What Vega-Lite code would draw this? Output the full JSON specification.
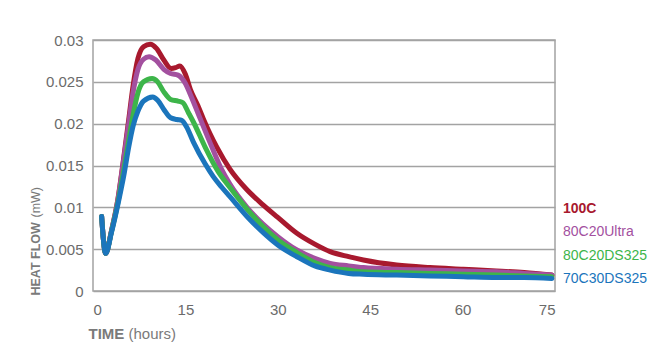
{
  "$schema": "https://vega.github.io/schema/vega-lite/v6.json",
  "width": 462,
  "height": 251,
  "autosize": "none",
  "padding": {"left": 93, "top": 40, "right": 98, "bottom": 65},
  "background": "white",
  "config": {
    "font": "Liberation Sans",
    "view": {"stroke": "#a3a3a3", "strokeWidth": 1.5}
  },
  "data": {
    "values": [
      {"s": "100C", "t": 1.4, "v": 0.0089}, {"s": "100C", "t": 2.05, "v": 0.0045}, {"s": "100C", "t": 3.0, "v": 0.0072}, {"s": "100C", "t": 4.0, "v": 0.0108}, {"s": "100C", "t": 5.0, "v": 0.0160}, {"s": "100C", "t": 5.8, "v": 0.0205}, {"s": "100C", "t": 6.5, "v": 0.0245}, {"s": "100C", "t": 7.3, "v": 0.0278}, {"s": "100C", "t": 8.2, "v": 0.0292}, {"s": "100C", "t": 9.3, "v": 0.0295}, {"s": "100C", "t": 10.3, "v": 0.0290}, {"s": "100C", "t": 11.5, "v": 0.0276}, {"s": "100C", "t": 12.7, "v": 0.0266}, {"s": "100C", "t": 13.4, "v": 0.0267}, {"s": "100C", "t": 14.1, "v": 0.0269}, {"s": "100C", "t": 15.0, "v": 0.0259}, {"s": "100C", "t": 15.8, "v": 0.0241}, {"s": "100C", "t": 17.0, "v": 0.0222}, {"s": "100C", "t": 17.9, "v": 0.0206}, {"s": "100C", "t": 19.0, "v": 0.0188}, {"s": "100C", "t": 20.1, "v": 0.0172}, {"s": "100C", "t": 22.2, "v": 0.0146}, {"s": "100C", "t": 25.0, "v": 0.0121}, {"s": "100C", "t": 27.6, "v": 0.0103}, {"s": "100C", "t": 30.0, "v": 0.0088}, {"s": "100C", "t": 33.1, "v": 0.0069}, {"s": "100C", "t": 36.0, "v": 0.0056}, {"s": "100C", "t": 38.5, "v": 0.0047}, {"s": "100C", "t": 41.5, "v": 0.0041}, {"s": "100C", "t": 43.9, "v": 0.0037}, {"s": "100C", "t": 49.3, "v": 0.0031}, {"s": "100C", "t": 54.7, "v": 0.0028}, {"s": "100C", "t": 60.1, "v": 0.0026}, {"s": "100C", "t": 65.5, "v": 0.0024}, {"s": "100C", "t": 70.0, "v": 0.0022}, {"s": "100C", "t": 74.5, "v": 0.0019},

      {"s": "80C20Ultra", "t": 1.4, "v": 0.0089}, {"s": "80C20Ultra", "t": 2.05, "v": 0.0045}, {"s": "80C20Ultra", "t": 3.0, "v": 0.0072}, {"s": "80C20Ultra", "t": 4.0, "v": 0.0107}, {"s": "80C20Ultra", "t": 5.0, "v": 0.0158}, {"s": "80C20Ultra", "t": 5.8, "v": 0.0200}, {"s": "80C20Ultra", "t": 6.5, "v": 0.0237}, {"s": "80C20Ultra", "t": 7.3, "v": 0.0265}, {"s": "80C20Ultra", "t": 8.2, "v": 0.0277}, {"s": "80C20Ultra", "t": 9.1, "v": 0.0280}, {"s": "80C20Ultra", "t": 10.2, "v": 0.0276}, {"s": "80C20Ultra", "t": 11.5, "v": 0.0265}, {"s": "80C20Ultra", "t": 12.6, "v": 0.0260}, {"s": "80C20Ultra", "t": 13.8, "v": 0.0258}, {"s": "80C20Ultra", "t": 15.0, "v": 0.0248}, {"s": "80C20Ultra", "t": 15.8, "v": 0.0235}, {"s": "80C20Ultra", "t": 17.4, "v": 0.0206}, {"s": "80C20Ultra", "t": 19.3, "v": 0.0172}, {"s": "80C20Ultra", "t": 20.9, "v": 0.0145}, {"s": "80C20Ultra", "t": 22.2, "v": 0.0128}, {"s": "80C20Ultra", "t": 25.0, "v": 0.0100}, {"s": "80C20Ultra", "t": 27.6, "v": 0.0080}, {"s": "80C20Ultra", "t": 30.0, "v": 0.0065}, {"s": "80C20Ultra", "t": 33.1, "v": 0.0049}, {"s": "80C20Ultra", "t": 36.0, "v": 0.0039}, {"s": "80C20Ultra", "t": 38.5, "v": 0.0033}, {"s": "80C20Ultra", "t": 41.5, "v": 0.0030}, {"s": "80C20Ultra", "t": 43.9, "v": 0.0028}, {"s": "80C20Ultra", "t": 49.3, "v": 0.0026}, {"s": "80C20Ultra", "t": 54.7, "v": 0.0025}, {"s": "80C20Ultra", "t": 60.1, "v": 0.0024}, {"s": "80C20Ultra", "t": 65.5, "v": 0.0023}, {"s": "80C20Ultra", "t": 70.0, "v": 0.0021}, {"s": "80C20Ultra", "t": 74.5, "v": 0.0019},

      {"s": "80C20DS325", "t": 1.4, "v": 0.0089}, {"s": "80C20DS325", "t": 2.05, "v": 0.0045}, {"s": "80C20DS325", "t": 3.0, "v": 0.0071}, {"s": "80C20DS325", "t": 4.0, "v": 0.0104}, {"s": "80C20DS325", "t": 5.0, "v": 0.0145}, {"s": "80C20DS325", "t": 5.8, "v": 0.0180}, {"s": "80C20DS325", "t": 6.5, "v": 0.0210}, {"s": "80C20DS325", "t": 7.3, "v": 0.0237}, {"s": "80C20DS325", "t": 8.2, "v": 0.0250}, {"s": "80C20DS325", "t": 9.6, "v": 0.0254}, {"s": "80C20DS325", "t": 10.5, "v": 0.0250}, {"s": "80C20DS325", "t": 11.5, "v": 0.0238}, {"s": "80C20DS325", "t": 12.6, "v": 0.0229}, {"s": "80C20DS325", "t": 13.8, "v": 0.0227}, {"s": "80C20DS325", "t": 14.6, "v": 0.0225}, {"s": "80C20DS325", "t": 15.5, "v": 0.0213}, {"s": "80C20DS325", "t": 16.3, "v": 0.0202}, {"s": "80C20DS325", "t": 18.2, "v": 0.0172}, {"s": "80C20DS325", "t": 20.3, "v": 0.0143}, {"s": "80C20DS325", "t": 22.2, "v": 0.0124}, {"s": "80C20DS325", "t": 25.0, "v": 0.0098}, {"s": "80C20DS325", "t": 27.6, "v": 0.0077}, {"s": "80C20DS325", "t": 30.0, "v": 0.0061}, {"s": "80C20DS325", "t": 33.1, "v": 0.0046}, {"s": "80C20DS325", "t": 36.0, "v": 0.0034}, {"s": "80C20DS325", "t": 38.5, "v": 0.0028}, {"s": "80C20DS325", "t": 41.5, "v": 0.0025}, {"s": "80C20DS325", "t": 43.9, "v": 0.0023}, {"s": "80C20DS325", "t": 49.3, "v": 0.0022}, {"s": "80C20DS325", "t": 54.7, "v": 0.0021}, {"s": "80C20DS325", "t": 60.1, "v": 0.0020}, {"s": "80C20DS325", "t": 65.5, "v": 0.0019}, {"s": "80C20DS325", "t": 70.0, "v": 0.0018}, {"s": "80C20DS325", "t": 74.5, "v": 0.0017},

      {"s": "70C30DS325", "t": 1.4, "v": 0.0089}, {"s": "70C30DS325", "t": 2.05, "v": 0.0045}, {"s": "70C30DS325", "t": 3.0, "v": 0.0070}, {"s": "70C30DS325", "t": 4.0, "v": 0.0102}, {"s": "70C30DS325", "t": 5.0, "v": 0.0138}, {"s": "70C30DS325", "t": 5.8, "v": 0.0172}, {"s": "70C30DS325", "t": 6.5, "v": 0.0197}, {"s": "70C30DS325", "t": 7.3, "v": 0.0215}, {"s": "70C30DS325", "t": 8.2, "v": 0.0227}, {"s": "70C30DS325", "t": 9.7, "v": 0.0232}, {"s": "70C30DS325", "t": 10.5, "v": 0.0228}, {"s": "70C30DS325", "t": 11.5, "v": 0.0217}, {"s": "70C30DS325", "t": 12.6, "v": 0.0207}, {"s": "70C30DS325", "t": 13.6, "v": 0.0205}, {"s": "70C30DS325", "t": 14.4, "v": 0.0204}, {"s": "70C30DS325", "t": 15.2, "v": 0.0196}, {"s": "70C30DS325", "t": 16.3, "v": 0.0178}, {"s": "70C30DS325", "t": 18.2, "v": 0.0152}, {"s": "70C30DS325", "t": 19.5, "v": 0.0137}, {"s": "70C30DS325", "t": 20.9, "v": 0.0124}, {"s": "70C30DS325", "t": 22.2, "v": 0.0113}, {"s": "70C30DS325", "t": 25.0, "v": 0.0089}, {"s": "70C30DS325", "t": 27.6, "v": 0.0070}, {"s": "70C30DS325", "t": 30.0, "v": 0.0055}, {"s": "70C30DS325", "t": 33.1, "v": 0.0041}, {"s": "70C30DS325", "t": 36.0, "v": 0.0030}, {"s": "70C30DS325", "t": 38.5, "v": 0.0025}, {"s": "70C30DS325", "t": 41.5, "v": 0.0021}, {"s": "70C30DS325", "t": 43.9, "v": 0.0020}, {"s": "70C30DS325", "t": 49.3, "v": 0.0019}, {"s": "70C30DS325", "t": 54.7, "v": 0.0018}, {"s": "70C30DS325", "t": 60.1, "v": 0.0017}, {"s": "70C30DS325", "t": 65.5, "v": 0.0016}, {"s": "70C30DS325", "t": 70.0, "v": 0.0016}, {"s": "70C30DS325", "t": 74.5, "v": 0.0015}
    ]
  },
  "layer": [
    {
      "mark": {"type": "line", "interpolate": "monotone", "strokeWidth": 5, "strokeCap": "round", "strokeJoin": "round"},
      "encoding": {
        "x": {
          "field": "t", "type": "quantitative",
          "scale": {"domain": [0, 75], "nice": false},
          "axis": {
            "values": [0, 15, 30, 45, 60, 75], "grid": false, "ticks": false, "domain": false,
            "labelFontSize": 15, "labelColor": "#6b6b6b", "labelPadding": 11,
            "title": "TIME", "titleFontWeight": "bold", "titleFontSize": 15, "titleColor": "#7a7a7a",
            "titleAlign": "left", "titleAnchor": "start", "titleBaseline": "alphabetic", "titleX": -5, "titleY": 47
          }
        },
        "y": {
          "field": "v", "type": "quantitative",
          "scale": {"domain": [0, 0.03], "nice": false},
          "axis": {
            "values": [0, 0.005, 0.01, 0.015, 0.02, 0.025, 0.03], "format": "~g",
            "grid": true, "gridColor": "#a3a3a3", "gridWidth": 1.5, "ticks": false, "domain": false,
            "labelFontSize": 15, "labelColor": "#6b6b6b", "labelPadding": 10,
            "title": "HEAT FLOW", "titleFontWeight": "bold", "titleFontSize": 12.5, "titleColor": "#7a7a7a",
            "titleAngle": 270, "titleAlign": "left", "titleBaseline": "alphabetic", "titleX": -54, "titleY": 255
          }
        },
        "color": {
          "field": "s", "type": "nominal",
          "scale": {"domain": ["100C", "80C20Ultra", "80C20DS325", "70C30DS325"], "range": ["#a8192e", "#a3509f", "#3db54a", "#1b75bc"]},
          "legend": {
            "orient": "none", "legendX": 456, "legendY": 162, "title": null,
            "labelFontSize": 14, "labelFont": "Liberation Sans",
            "symbolSize": 0, "symbolStrokeWidth": 0, "symbolOpacity": 0, "labelOffset": 0, "rowPadding": 9.4, "padding": 0,
            "encode": {
              "labels": {
                "update": {
                  "fill": {"scale": "color", "field": "value"},
                  "fontWeight": {"signal": "datum.value === '100C' ? 'bold' : 'normal'"}
                }
              }
            }
          }
        }
      }
    },
    {
      "mark": {"type": "line", "opacity": 0},
      "encoding": {
        "x": {
          "field": "t", "type": "quantitative",
          "axis": {
            "orient": "top", "labels": false, "ticks": false, "domain": false, "grid": false,
            "title": "(hours)", "titleFontWeight": "normal", "titleFontSize": 15, "titleColor": "#7a7a7a",
            "titleAlign": "left", "titleAnchor": "start", "titleBaseline": "alphabetic", "titleX": 35, "titleY": 298
          }
        },
        "y": {
          "field": "v", "type": "quantitative",
          "axis": {
            "orient": "right", "labels": false, "ticks": false, "domain": false, "grid": false,
            "title": "(mW)", "titleFontWeight": "normal", "titleFontSize": 12.5, "titleColor": "#7a7a7a",
            "titleAngle": 270, "titleAlign": "left", "titleBaseline": "alphabetic", "titleX": -516, "titleY": 177
          }
        },
        "detail": {"field": "s", "type": "nominal"}
      }
    }
  ],
  "resolve": {"axis": {"x": "independent", "y": "independent"}}
}
